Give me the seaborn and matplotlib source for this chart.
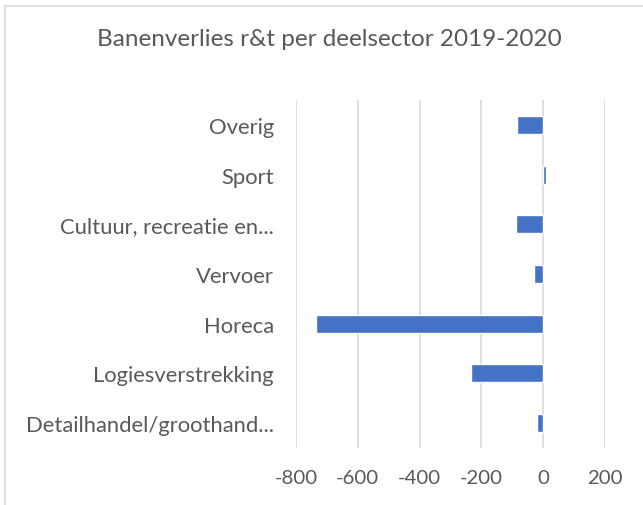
import numpy as np
import pandas as pd
import matplotlib
matplotlib.use('Agg')
import matplotlib.pyplot as plt
import seaborn as sns

sectors = ['Overig', 'Sport', 'Cultuur, recreatie en...', 'Vervoer', 'Horeca',
           'Logiesverstrekking', 'Detailhandel/groothand...']
loss = [-85, 8, -88, -30, -734, -234, -20]
xticks = [-800, -600, -400, -200, 0, 200]

df = pd.DataFrame({'sector': sectors, 'loss': loss})

sns.set_theme(style='white')
plt.rcParams['font.family'] = ['Lato', 'DejaVu Sans']
txt = '#595959'

fig = plt.figure(figsize=(6.43, 5.06), dpi=100)
ax = fig.add_axes([0.4603, 0.1126, 0.4806, 0.6878])

sns.barplot(data=df, x='loss', y='sector', order=sectors, color='#4472C4',
            saturation=1, width=0.36, ax=ax, zorder=3)

ax.set_xlim(-800, 200)
ax.set_xticks(xticks)
ax.set_xticklabels([str(t) for t in xticks])
ax.xaxis.grid(True, color='#d9d9d9', linewidth=1.2, zorder=0)
ax.yaxis.grid(False)
for s in ax.spines.values():
    s.set_visible(False)
ax.tick_params(axis='both', length=0, colors=txt)
ax.tick_params(axis='y', pad=16, labelsize=15.8)
ax.tick_params(axis='x', pad=15, labelsize=14.7)
ax.set_xlabel('')
ax.set_ylabel('')
ax.set_ylim(6.5, -0.5)

fig.text(0.513, 0.922, 'Banenverlies r&t per deelsector 2019-2020',
         ha='center', va='center', fontsize=17.5, color=txt)

# chart border
fig.patches.append(plt.Rectangle((0.008, -0.02), 1.1, 1.006, transform=fig.transFigure,
                                 fill=False, edgecolor='#d9d9d9', linewidth=1.2))

fig.savefig('out.png', dpi=100)
